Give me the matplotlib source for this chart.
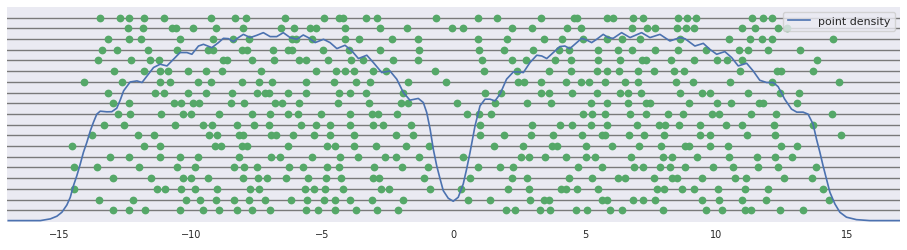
import numpy as np
import matplotlib
matplotlib.use("Agg")
import matplotlib.pyplot as plt

# dot positions per row, top row first (row value 19 down to 1)
row_19 = [-13.45, -12.69, -12.34, -11.77, -11.04, -9.23, -8.30, -7.90, -6.41, -4.93, -4.35, -4.22,
          -3.33, -2.90, -0.67, 0.94, 1.67, 3.34, 4.60, 4.71, 5.85, 6.08, 6.84, 7.22, 8.55, 8.90,
          9.25, 11.37, 11.79, 12.13]
row_18 = [-12.41, -11.84, -10.70, -10.57, -9.90, -9.04, -8.00, -6.56, -6.07, -5.46, -5.23, -4.12,
          -2.79, -1.76, -0.05, 0.37, 2.24, 3.00, 4.33, 4.86, 6.78, 7.35, 7.67, 8.52, 8.85, 9.16,
          10.99, 11.48, 12.36, 12.68]
row_17 = [-13.17, -12.37, -11.88, -10.40, -9.14, -8.38, -7.77, -6.15, -5.99, -5.38, -4.12, -3.58,
          -2.33, -1.34, 0.94, 2.05, 3.46, 4.14, 4.94, 5.85, 6.42, 7.11, 8.63, 10.49, 11.29, 11.75,
          12.13, 14.45]
row_16 = [-13.40, -12.83, -11.65, -10.51, -9.33, -9.16, -8.07, -7.85, -6.86, -6.29, -6.16, -4.95,
          -3.97, -2.79, -1.30, 0.98, 1.93, 3.04, 4.03, 4.41, 5.49, 6.27, 6.80, 7.68, 8.55, 9.62,
          10.88, 11.22, 11.98, 13.20]
row_15 = [-13.55, -12.26, -11.54, -11.23, -8.78, -8.63, -7.69, -6.82, -5.88, -5.61, -4.76, -3.89,
          -3.43, -2.29, -1.34, 1.10, 2.24, 2.77, 3.87, 4.48, 5.49, 6.35, 7.18, 7.33, 8.29, 9.16,
          10.04, 10.42, 10.99, 13.84]
row_14 = [-12.91, -11.80, -11.16, -10.88, -10.09, -9.44, -8.80, -7.31, -5.22, -4.46, -4.12, -3.77,
          -3.05, -2.56, -0.69, 1.17, 2.43, 3.65, 4.48, 5.47, 5.85, 6.31, 7.03, 7.64, 8.40, 8.78,
          10.91, 12.32, 12.47, 13.69]
row_13 = [-14.05, -12.64, -11.19, -10.78, -9.71, -9.25, -8.06, -7.39, -6.90, -5.60, -4.54, -3.70,
          -3.17, -1.72, -0.27, 2.47, 2.69, 3.34, 4.29, 4.86, 5.17, 5.78, 6.54, 7.03, 8.48, 9.13,
          10.53, 12.13, 14.68]
row_12 = [-13.17, -11.35, -11.04, -10.09, -9.44, -8.42, -7.48, -7.16, -7.01, -6.29, -5.60, -4.35,
          -3.93, -3.32, -1.91, 1.21, 1.82, 3.34, 3.65, 4.52, 5.47, 6.35, 6.65, 7.15, 8.63, 9.47,
          9.77, 11.22, 12.44, 13.16]
row_11 = [-12.98, -12.34, -10.66, -10.36, -9.90, -9.70, -8.49, -7.96, -6.78, -6.54, -5.88, -4.38,
          -3.20, -1.99, -1.72, 0.14, 1.59, 2.81, 3.72, 5.24, 5.85, 6.65, 7.33, 7.50, 8.97, 10.04,
          10.57, 11.64, 11.79, 13.08]
row_10 = [-12.79, -12.30, -11.12, -10.28, -9.98, -8.91, -7.69, -6.97, -6.32, -5.91, -5.03, -3.93,
          -3.09, -2.86, -2.14, 0.53, 0.98, 1.44, 4.94, 5.28, 5.78, 6.73, 7.34, 8.17, 8.74, 9.85,
          10.11, 11.33, 12.28, 14.41]
row_9 = [-13.29, -12.56, -10.59, -9.52, -9.18, -8.23, -7.58, -7.01, -5.80, -5.22, -4.69, -3.93,
         -3.05, -2.67, -1.61, 1.02, 3.00, 4.06, 4.52, 5.24, 5.85, 6.99, 7.83, 8.06, 8.59, 9.39,
         10.38, 10.99, 12.21, 13.69]
row_8 = [-13.78, -12.03, -11.42, -9.29, -8.99, -8.15, -8.00, -6.96, -6.75, -6.10, -5.33, -4.69,
         -3.77, -2.18, -1.53, 1.02, 1.93, 2.96, 3.80, 4.90, 5.64, 5.78, 6.69, 7.26, 8.02, 9.39,
         9.77, 11.18, 12.25, 14.76]
row_7 = [-14.51, -11.77, -11.16, -9.08, -8.85, -8.07, -7.88, -6.32, -4.80, -4.50, -3.77, -2.94,
         -1.80, -0.92, 1.55, 2.66, 3.75, 3.94, 5.05, 6.04, 7.07, 7.91, 8.81, 8.96, 9.77, 10.46,
         12.47, 13.08]
row_6 = [-13.06, -12.34, -11.19, -10.40, -9.71, -8.15, -6.93, -6.59, -5.37, -4.31, -3.62, -2.60,
         -2.18, -1.30, 0.37, 2.58, 2.88, 3.49, 4.29, 5.05, 5.40, 6.77, 7.98, 8.33, 9.28, 10.49,
         11.56, 12.25, 12.89]
row_5 = [-14.43, -13.59, -11.99, -10.51, -9.83, -8.34, -7.96, -7.47, -6.25, -5.72, -4.80, -4.35,
         -3.01, -1.95, -0.96, 0.94, 1.78, 2.28, 4.75, 5.64, 6.88, 7.22, 7.87, 8.25, 8.82, 9.89,
         10.65, 11.60, 12.36, 13.81]
row_4 = [-12.95, -11.50, -10.28, -9.98, -9.33, -8.00, -7.43, -7.09, -6.36, -5.53, -4.84, -4.27,
         -3.05, -2.82, -1.11, 0.64, 2.24, 2.81, 4.41, 5.28, 6.27, 6.54, 7.64, 8.33, 8.52, 9.47,
         10.72, 11.14, 12.59, 13.65]
row_3 = [-14.43, -11.27, -10.97, -10.36, -9.86, -8.99, -7.73, -7.39, -5.64, -5.33, -4.88, -4.19,
         -2.75, -2.44, -0.88, 0.30, 2.09, 2.88, 4.08, 4.29, 4.71, 5.51, 7.76, 8.02, 8.71, 9.16,
         10.08, 11.10, 11.98, 14.07]
row_2 = [-13.48, -12.22, -10.17, -9.67, -9.06, -8.34, -7.77, -7.16, -6.17, -5.56, -4.92, -4.50,
         -3.93, -3.09, -1.91, 0.56, 1.40, 2.92, 3.46, 3.65, 5.64, 5.85, 6.84, 7.22, 7.68, 9.47,
         10.11, 10.99, 11.90, 14.30]
row_1 = [-12.98, -12.34, -11.73, -10.40, -9.52, -8.91, -8.23, -7.66, -6.97, -5.60, -5.14, -4.50,
         -3.70, -2.90, -2.10, 2.01, 2.35, 3.30, 3.68, 4.67, 5.09, 5.97, 6.42, 7.98, 9.62, 10.23,
         11.10, 11.33, 12.44, 13.31]

rows = [row_1, row_2, row_3, row_4, row_5, row_6, row_7, row_8, row_9, row_10,
        row_11, row_12, row_13, row_14, row_15, row_16, row_17, row_18, row_19]
row_levels = list(range(1, 20))

# point density curve
curve_x = [-16.95, -15.73, -15.35, -15.10, -14.91, -14.72, -14.59, -14.47, -14.34, -14.21, -14.09,
           -13.96, -13.83, -13.71, -13.58, -13.45, -13.20, -13.01, -12.82, -12.69, -12.56, -12.31,
           -12.05, -11.86, -11.67, -11.42, -11.17, -10.91, -10.66, -10.41, -10.15, -9.96, -9.71,
           -9.52, -9.20, -8.95, -8.76, -8.57, -8.38, -8.19, -8.00, -7.74, -7.49, -7.24, -6.98,
           -6.73, -6.48, -6.22, -5.97, -5.72, -5.53, -5.27, -4.95, -4.70, -4.44, -4.13, -3.87,
           -3.62, -3.30, -3.05, -2.73, -2.42, -2.16, -1.91, -1.66, -1.34, -1.15, -1.02, -0.89,
           -0.77, -0.64, -0.51, -0.39, -0.20, -0.01, 0.18, 0.37, 0.50, 0.63, 0.82, 1.01, 1.20,
           1.39, 1.58, 1.77, 2.02, 2.28, 2.47, 2.66, 2.91, 3.17, 3.36, 3.55, 3.80, 4.05, 4.24,
           4.43, 4.62, 4.88, 5.07, 5.26, 5.45, 5.70, 5.89, 6.08, 6.40, 6.72, 7.16, 7.48, 7.86,
           8.24, 8.62, 8.81, 9.19, 9.51, 9.76, 10.02, 10.33, 10.59, 10.84, 11.16, 11.41, 11.66,
           11.92, 12.17, 12.36, 12.61, 12.87, 13.07, 13.31, 13.50, 13.69, 13.82, 13.95, 14.07,
           14.20, 14.33, 14.52, 14.71, 14.96, 15.34, 15.85, 16.99]
curve_y = [0.03, 0.03, 0.19, 0.44, 0.81, 1.49, 2.21, 3.29, 4.23, 5.32, 6.41,
           7.34, 8.40, 9.21, 9.98, 10.26, 10.20, 10.21, 10.54, 11.29, 12.16, 12.99,
           13.09, 12.94, 13.55, 14.34, 14.65, 14.49, 15.11, 15.74, 15.74, 15.58, 16.35,
           16.51, 16.20, 16.67, 17.07, 17.04, 16.76, 17.14, 17.44, 17.14, 17.35, 17.60, 17.23,
           17.23, 17.60, 17.14, 16.98, 17.38, 17.14, 16.67, 16.98, 16.67, 16.11, 16.42, 15.89,
           15.18, 15.49, 14.80, 13.87, 14.02, 13.25, 12.01, 11.29, 11.45, 11.07, 10.14, 8.58,
           6.72, 5.16, 3.92, 2.83, 2.12, 1.84, 2.21, 3.45, 4.85, 6.41, 8.89, 10.76, 11.38,
           11.38, 11.22, 11.85, 13.25, 13.93, 13.93, 13.87, 14.80, 15.49, 15.42, 15.18, 15.74, 16.30, 16.35,
           16.11, 16.51, 17.07, 16.91, 16.67, 16.98, 17.44, 17.14, 17.07, 17.60, 17.14, 17.60, 17.14, 17.44,
           16.82, 17.14, 17.04, 16.35, 16.60, 16.04, 15.58, 15.83, 15.27, 14.49, 14.74, 14.02, 13.15,
           12.94, 12.94, 12.55, 11.38, 10.45, 10.17, 10.17, 9.98, 9.05, 7.65, 6.41, 5.16,
           3.92, 2.68, 1.59, 0.81, 0.35, 0.12, 0.03, 0.03]

bg = "#EAEAF2"
dot_color = "#55A868"
line_color = "#4C72B0"

fig = plt.figure(figsize=(9.07, 2.51), dpi=100)
ax = fig.add_axes([0.0077, 0.1116, 0.9846, 0.8566])
ax.set_facecolor(bg)
for s in ax.spines.values():
    s.set_visible(False)

for lvl, xs in zip(row_levels, rows):
    ax.axhline(lvl, color="#7a7a7a", lw=1.0, zorder=1)
    ax.plot(xs, [lvl] * len(xs), "o", color=dot_color, ms=5.6, mec="none", zorder=2)

ax.plot(curve_x, curve_y, color=line_color, lw=1.2, zorder=3, label="point density")

ax.set_xlim(-17, 17)
ax.set_ylim(-0.1, 20.0)
ax.set_xticks([-15, -10, -5, 0, 5, 10, 15])
ax.set_yticks([])
ax.tick_params(axis="x", length=0, pad=5, labelsize=7.0, labelcolor="#262626")

leg = ax.legend(loc="upper right", fontsize=7.9, frameon=True, fancybox=True,
                borderaxespad=0.45)
leg.get_frame().set_facecolor(bg)
leg.get_frame().set_edgecolor("#cccccc")
for t in leg.get_texts():
    t.set_color("#262626")

fig.savefig("out.png", dpi=100)
